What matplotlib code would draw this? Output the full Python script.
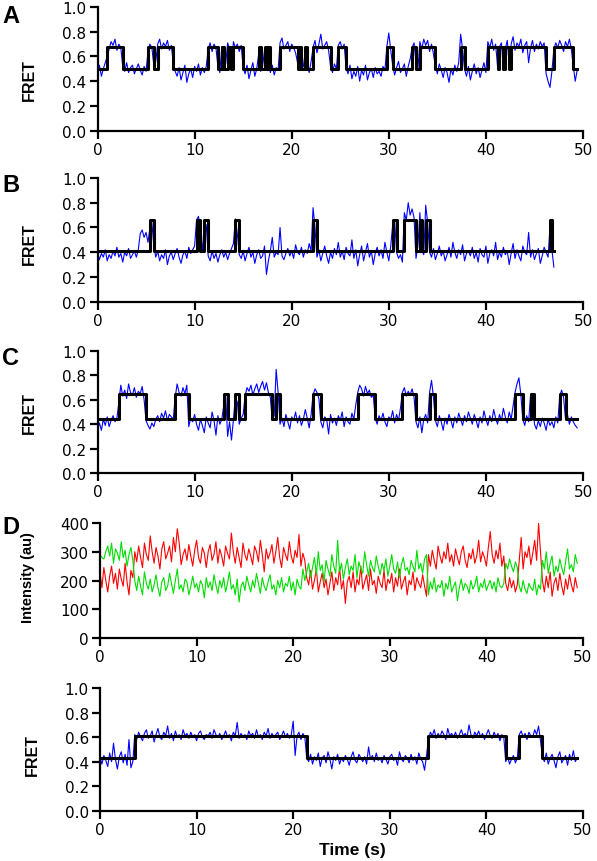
import matplotlib
matplotlib.use("Agg")
import matplotlib.pyplot as plt
import numpy as np

# FRET traces sampled every 0.2 s (values in hundredths)
dt = 0.2

a_fret = [
    47, 53, 44, 50, 55, 60, 66, 72, 69, 74, 65, 70, 67,
    52, 48, 55, 47, 51, 53, 46, 50, 54, 49, 45, 52, 48, 64, 70, 67, 53, 56,
    70, 74, 66, 71, 68, 73, 65, 69,
    55, 48, 44, 51, 41, 47, 53, 39, 46, 50, 43, 52, 48, 54, 45, 51, 47, 52,
    66, 71, 64, 70, 67, 52, 47, 68, 50, 54, 71, 66, 49, 72, 67, 70, 64, 69,
    51, 46, 53, 42, 49, 55, 44, 50, 62, 48, 52, 65, 50, 63, 47, 53, 45, 51, 49,
    71, 75, 66, 69, 72, 64, 70, 67, 63, 55, 66, 49, 52, 64, 53, 47, 56,
    67, 73, 63, 70, 78, 66, 69, 72, 65, 52, 47, 54, 50, 69, 72, 66, 70,
    51, 46, 53, 42, 48, 44, 52, 40, 49, 45, 53, 41, 47, 50, 43, 51, 46, 48, 44, 52, 49,
    68, 79, 65, 53, 45, 51, 56, 47, 50, 54, 44, 52, 58, 67, 71, 55, 50,
    72, 66, 74, 69, 73, 64, 70, 62,
    52, 46, 54, 49, 43, 51, 47, 39, 50, 45, 53, 48, 55, 78, 66,
    50, 44, 52, 41, 48, 54, 46, 51, 43, 49, 55, 47,
    72, 67, 74, 65, 70, 52, 68, 71, 50, 66, 73, 53,
    70, 76, 65, 71, 68, 74, 63, 69, 72, 55, 67, 73, 64, 70, 66, 72, 68, 71,
    46, 40, 35, 48, 66, 71, 67, 73, 69, 64, 72, 68, 74, 66, 52, 40, 49]
a_switch = [1.0, 2.6, 5.2, 5.8, 6.2, 7.8, 11.4, 12.4, 12.8, 13.0, 13.4, 13.8,
            14.0, 15.0, 16.6, 16.8, 17.2, 17.4, 17.6, 17.8, 18.8, 20.6, 20.8,
            21.0, 21.4, 21.6, 22.2, 24.0, 24.8, 25.6, 29.8, 30.4, 32.4, 32.8,
            33.2, 34.8, 37.4, 37.8, 40.2, 41.2, 41.4, 41.8, 42.0, 42.4, 42.6,
            46.2, 47.0, 49.0]
a_levels = (0.50, 0.68)
a_end = 49.4

b_fret = [
    40, 34, 39, 36, 42, 33, 38, 35, 41, 37, 44, 36, 39, 32, 40, 37, 43, 35, 38, 41, 36, 42, 55, 58, 52,
    56, 48, 60, 64, 45,
    36, 41, 33, 38, 35, 42, 30, 37, 40, 34, 39, 43, 36, 31, 38, 41, 35, 44, 39, 42, 45,
    66, 69, 58, 40, 64,
    62, 37, 33, 41, 35, 39, 32, 38, 42, 36, 40, 34, 39, 43, 47,
    67, 55,
    38, 35, 41, 33, 39, 44, 36, 40, 31, 38, 42, 35, 37, 45, 22, 33, 41, 52, 36, 40,
    38, 60, 37, 34, 39, 43, 37, 41, 35, 46, 40, 38, 44, 36, 42, 39, 47, 41,
    76, 60,
    36, 42, 33, 39, 45, 37, 31, 40, 35, 43, 38, 48, 36, 41, 34, 44, 39, 37, 50, 35,
    42, 29, 38, 45, 33, 40, 47, 36, 41, 30, 39, 44, 37, 42, 35, 48, 40, 33, 45,
    62, 66, 40, 35, 38, 32, 72, 66, 80, 70, 75, 68, 35, 45, 72, 42, 38, 78, 64,
    40, 36, 43, 34, 39, 45, 37, 41, 33, 38, 44, 36, 48, 40, 35, 42, 38, 46, 33, 39,
    41, 37, 44, 35, 40, 32, 43, 38, 36, 45, 31, 39, 42, 37, 48, 34, 40, 36, 44, 38,
    41, 30, 39, 47, 35, 42, 37, 33, 45, 40, 38, 56, 36, 42, 34, 39, 43, 31, 37, 44,
    40, 36, 60, 42, 28]
b_switch = [5.4, 5.8, 10.2, 10.6, 11.0, 11.4, 14.2, 14.6, 22.2, 22.6, 30.4,
            30.8, 31.6, 32.8, 33.2, 33.4, 33.8, 34.2, 46.6, 46.8]
b_levels = (0.41, 0.66)
b_end = 47.0

c_fret = [
    36, 41, 35, 44, 39, 46, 38, 43, 47, 42, 45,
    58, 72, 63, 68, 61, 73, 66, 64, 70, 62, 67, 65, 71, 60,
    43, 39, 36, 41, 38, 44, 47, 42, 49, 45, 51, 43, 48, 46, 44,
    62, 73, 66, 63, 70, 65, 72,
    38, 45, 42, 48, 40, 35, 44, 39, 33, 46, 41, 37, 50, 43, 31, 47, 40, 44,
    55, 64, 30, 42, 27, 44, 62, 58, 40, 45, 48,
    63, 70, 67, 72, 64, 69, 73, 66, 71, 75, 68, 74, 66, 62,
    43, 47, 85, 66,
    40, 45, 38, 48, 42, 36, 46, 43, 50, 41, 47, 39, 44, 52, 45, 37, 48,
    64, 69, 66, 61,
    42, 37, 46, 44, 32, 48, 41, 45, 39, 47, 43, 50, 38, 46, 42, 40, 49, 44, 56,
    66, 72, 69, 63, 71, 65, 68, 62, 64,
    45, 40, 47, 43, 49, 42, 38, 46, 44, 51, 41, 48, 43, 53,
    66, 70, 63, 67, 64, 69, 62,
    42, 37, 46, 33, 44, 48, 41, 66, 76, 62,
    43, 38, 47, 42, 35, 45, 40, 48, 43, 37, 46, 41, 49, 44, 39, 47, 42, 50, 45, 40,
    48, 43, 37, 46, 41, 51, 44, 39, 47, 42, 52, 45, 40, 48, 43, 53, 46, 41, 50, 44, 55,
    66, 73, 78, 64, 44, 39, 47, 42, 64, 60,
    40, 36, 43, 38, 45, 41, 35, 44, 39, 42, 37, 46, 41,
    63, 68, 62, 44, 48, 40, 46, 42, 39, 37]
c_switch = [2.2, 5.0, 8.0, 9.4, 13.0, 13.4, 14.2, 14.6, 15.2, 18.0, 18.4, 18.8,
            22.2, 23.0, 26.8, 28.6, 31.4, 32.8, 34.2, 34.8, 43.0, 43.8, 44.6,
            45.0, 47.6, 48.2]
c_levels = (0.44, 0.65)
c_end = 49.4

d_fret = [
    44, 38, 45, 41, 36, 47, 40, 55, 42, 34, 44, 48, 39, 46, 37, 58, 35, 40,
    62, 58, 64, 60, 57, 63, 66, 59, 61, 65, 56, 62, 67, 60, 58, 64, 61, 69, 59, 63,
    57, 65, 60, 62, 58, 66, 61, 63, 59, 64, 60, 62, 57, 63, 65, 60, 58, 62, 61, 64,
    59, 66, 62, 60, 63, 58, 61, 65, 60, 62, 57, 64, 61, 72, 59, 63, 60, 62, 58, 65,
    61, 63, 59, 66, 60, 62, 58, 64, 61, 67, 59, 63, 60, 62, 64, 58, 61, 65, 60, 63,
    59, 62, 73, 45, 61, 64, 58, 63, 60,
    43, 40, 46, 38, 44, 41, 47, 36, 43, 45, 39, 48, 42, 34, 44, 41, 46, 38, 43, 40,
    45, 42, 37, 44, 48, 41, 39, 46, 43, 40, 44, 38, 52, 42, 45, 40, 47, 41, 43, 39,
    45, 42, 38, 44, 46, 41, 43, 37, 48, 42, 40, 45, 43, 39, 46, 41, 44, 38, 47, 42,
    40, 33, 45,
    58, 64, 61, 66, 59, 63, 60, 65, 62, 58, 67, 61, 63, 60, 64, 59, 62, 66, 61, 63,
    60, 70, 62, 59, 64, 61, 65, 60, 63, 58, 62, 66, 61, 59, 64, 60, 63, 57, 62, 60,
    40, 44, 38, 42, 45, 39, 43,
    62, 65, 60, 63, 58, 64, 61, 60, 66, 62, 69, 57,
    44, 40, 47, 38, 43, 46, 41, 35, 44, 48, 39, 42, 45, 37, 46, 41, 49, 40, 43]
d_switch = [3.6, 21.4, 34.0, 42.0, 43.4, 45.8]
d_levels = (0.43, 0.61)
d_end = 49.4

# donor (green) and acceptor (red) intensities for trace D
d_red = [
    230, 175, 245, 200, 160, 215, 250, 190, 225, 170, 240, 205, 180, 260, 195, 150, 235, 210,
    300, 265, 320, 280, 245, 330, 290, 270, 355, 300, 260, 315, 285, 240, 310, 335, 275, 295, 320, 265,
    350, 300, 380, 330, 255, 290, 310, 270, 325, 285, 250, 305, 340, 280, 260, 315, 295, 245, 300, 325,
    270, 290, 335, 260, 310, 285, 250, 320, 295, 275, 365, 300, 260, 315, 280, 245, 330, 290, 270, 310,
    285, 255, 320, 300, 265, 340, 290, 230, 310, 275, 295, 325, 260, 300, 350, 280, 245, 315, 290, 270,
    335, 285, 260, 305, 280, 360, 250, 295, 270,
    210, 185, 235, 170, 200, 240, 160, 195, 225, 175, 205, 150, 190, 230, 165, 210, 185, 245, 170, 200,
    120, 195, 215, 175, 230, 160, 205, 185, 250, 170, 195, 220, 165, 240, 185, 200, 155, 215, 190, 175,
    235, 165, 205, 190, 225, 160, 210, 180, 240, 170, 195, 215, 150, 200, 185, 230, 165, 210, 190, 175,
    220, 180, 145,
    290, 250, 305, 270, 240, 320, 285, 260, 300, 275, 330, 265, 290, 250, 310, 280, 255, 300, 320, 270,
    245, 295, 275, 310, 260, 285, 340, 265, 300, 280, 250, 315, 370, 290, 260, 305, 275, 330, 250, 285,
    190, 165, 210, 175, 200, 160, 185,
    270, 350, 240, 300, 280, 320, 255, 295, 340, 270, 400, 300,
    200, 160, 215, 175, 230, 145, 190, 210, 165, 225, 180, 150, 205, 170, 220, 185, 160, 210, 175]
d_green = [
    290, 280, 275, 300, 320, 285, 330, 260, 310, 295, 270, 335, 280, 305, 250, 290, 315, 270,
    200, 165, 215, 180, 150, 230, 190, 170, 205, 160, 185, 220, 175, 145, 195, 210, 165, 180, 225, 190,
    155, 200, 240, 170, 185, 160, 205, 195, 150, 180, 215, 175, 190, 160, 200, 185, 140, 210, 175, 195,
    165, 220, 185, 155, 200, 175, 210, 160, 190, 230, 170, 185, 150, 205, 125, 180, 195, 165, 215, 185,
    160, 200, 175, 225, 190, 155, 210, 180, 165, 195, 220, 170, 185, 150, 200, 175, 210, 160, 190, 180,
    215, 165, 195, 150, 205, 180, 170, 240, 200,
    230, 260, 210, 245, 280, 220, 300, 235, 255, 195, 270, 240, 215, 290, 250, 225, 340, 230, 260, 205,
    245, 275, 220, 250, 235, 290, 210, 265, 240, 225, 300, 255, 215, 270, 245, 230, 285, 250, 220, 260,
    235, 275, 215, 250, 290, 240, 225, 265, 210, 255, 280, 235, 245, 220, 270, 250, 230, 305, 240, 260,
    225, 275, 290,
    150, 195, 170, 210, 160, 185, 175, 200, 145, 190, 170, 215, 160, 180, 195, 130, 175, 205, 165, 190,
    180, 155, 200, 170, 185, 215, 160, 190, 175, 205, 165, 185, 200, 170, 195, 160, 210, 180, 175, 190,
    260, 240, 275, 250, 230, 265, 245,
    180, 160, 200, 170, 155, 190, 175, 165, 205, 150, 185, 170,
    270, 240, 300, 225, 260, 285, 215, 250, 230, 275, 245, 220, 265, 310, 240, 255, 230, 290, 260]

W, H = 597, 862
fig = plt.figure(figsize=(W / 100, H / 100), dpi=100)

label_font = dict(family="Liberation Sans", weight="bold", size=11.5)


def make_axes(left, top, right, bottom):
    # pixel box -> figure fraction
    ax = fig.add_axes([left / W, 1 - bottom / H, (right - left) / W, (bottom - top) / H])
    for s in ("top", "right"):
        ax.spines[s].set_visible(False)
    for s in ("left", "bottom"):
        ax.spines[s].set_linewidth(1.6)
    ax.tick_params(width=1.6, length=6, pad=2)
    ax.set_xlim(0, 50)
    ax.set_xticks(range(0, 51, 10))
    return ax


def step_path(switch, end, levels):
    t = [0.0] + list(switch) + [end]
    v = [levels[i % 2] for i in range(len(switch) + 1)]
    return t, v + [v[-1]]


def fret_panel(ax, trace, switch, end, levels, ylab_y):
    y = np.array(trace) / 100.0
    t = np.arange(len(y)) * dt
    ax.plot(t, y, color="#0000ff", lw=0.8)
    st, sv = step_path(switch, end, levels)
    ax.step(st, sv, where="post", color="black", lw=2.2)
    ax.set_ylim(0, 1.0)
    ax.set_yticks(np.arange(0, 1.01, 0.2))
    ax.set_yticklabels(["%.1f" % v for v in np.arange(0, 1.01, 0.2)])
    ax.set_ylabel("FRET", **label_font)
    ax.yaxis.set_label_coords(-0.125, ylab_y)


axA = make_axes(97.5, 8, 583, 131.7)
fret_panel(axA, a_fret, a_switch, a_end, a_levels, 0.42)
axB = make_axes(97.5, 179, 583, 302.7)
fret_panel(axB, b_fret, b_switch, b_end, b_levels, 0.47)
axC = make_axes(97.5, 352, 583, 474)
fret_panel(axC, c_fret, c_switch, c_end, c_levels, 0.5)

axD = make_axes(100, 524, 583, 639)
tr = np.arange(len(d_red)) * dt
tg = np.arange(len(d_green)) * dt
axD.plot(tr, d_red, color="#ff0000", lw=0.8)
axD.plot(tg, d_green, color="#00dd00", lw=0.8)
axD.set_ylim(0, 400)
axD.set_yticks(range(0, 401, 100))
axD.set_ylabel("Intensity (au)", family="Liberation Sans", weight="bold", size=10.5)
axD.yaxis.set_label_coords(-0.135, 0.53)

axE = make_axes(100, 689, 583, 811.7)
fret_panel(axE, d_fret, d_switch, d_end, d_levels, 0.46)
fig.text(352 / W, 1 - 851 / H, "Time (s)", ha="center", va="center",
         family="Liberation Sans", weight="bold", size=12.5)

for ax in (axA, axB, axC, axD, axE):
    for lab in ax.get_xticklabels() + ax.get_yticklabels():
        lab.set_family("DejaVu Sans")
        lab.set_fontsize(11)

letter_font = dict(family="Liberation Sans", weight="bold", size=17, va="top", ha="left")
fig.text(2 / W, 1 - 5 / H, "A", **letter_font)
fig.text(2 / W, 1 - 174 / H, "B", **letter_font)
fig.text(2 / W, 1 - 347 / H, "C", **letter_font)
fig.text(2 / W, 1 - 516 / H, "D", **letter_font)

fig.savefig("out.png", dpi=100)
